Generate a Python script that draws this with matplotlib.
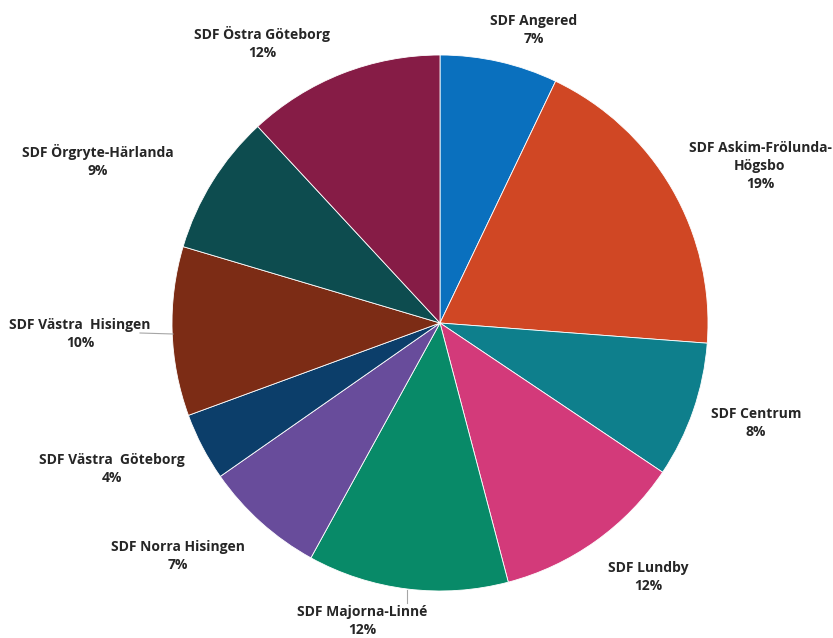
import matplotlib
matplotlib.use("Agg")
import matplotlib.pyplot as plt

labels = ["SDF Angered", "SDF Askim-Frölunda-\nHögsbo", "SDF Centrum", "SDF Lundby",
          "SDF Majorna-Linné", "SDF Norra Hisingen", "SDF Västra  Göteborg",
          "SDF Västra  Hisingen", "SDF Örgryte-Härlanda", "SDF Östra Göteborg"]
values = [7.1, 19.1, 8.2, 11.5, 12.1, 7.3, 4.1, 10.2, 8.5, 11.9]
pct_text = ["7%", "19%", "8%", "12%", "12%", "7%", "4%", "10%", "9%", "12%"]
colors = ["#0a70be", "#d04724", "#0e7f8c", "#d33a7a", "#088a68", "#684c9b",
          "#0c3e6a", "#7c2c15", "#0d4c4f", "#861c46"]

# label centre positions in pixels (layout only)
label_px = [(534, 30), (760, 166), (756, 423), (648, 577), (362, 621), (178, 556),
            (112, 469), (80, 334), (98, 161), (262, 43)]

W, H = 833, 638
cx, cy, R = 440, 323, 268
fig = plt.figure(figsize=(W / 100, H / 100), dpi=100)
ax = fig.add_axes([(cx - R) / W, (H - cy - R) / H, 2 * R / W, 2 * R / H])
ax.pie(values, colors=colors, startangle=90, counterclock=False, radius=1,
       wedgeprops=dict(linewidth=0.6, edgecolor="white"))
ax.set_xlim(-1, 1)
ax.set_ylim(-1, 1)
ax.set_aspect("equal")
ax.axis("off")

def to_data(px, py):
    return ((px - cx) / R, (cy - py) / R)

for lab, p, (px, py) in zip(labels, pct_text, label_px):
    x, y = to_data(px, py)
    ax.text(x, y, lab + "\n" + p, ha="center", va="center", fontsize=10,
            fontweight="bold", family=["Open Sans", "DejaVu Sans"], color="#262626",
            linespacing=1.4, clip_on=False)

# leader lines
for (x0, y0), (x1, y1) in [((140, 333), (173, 334)), ((407, 590), (407, 603))]:
    a = to_data(x0, y0); b = to_data(x1, y1)
    ax.plot([a[0], b[0]], [a[1], b[1]], color="#a6a6a6", lw=0.8, clip_on=False)

fig.savefig("out.png", dpi=100)
